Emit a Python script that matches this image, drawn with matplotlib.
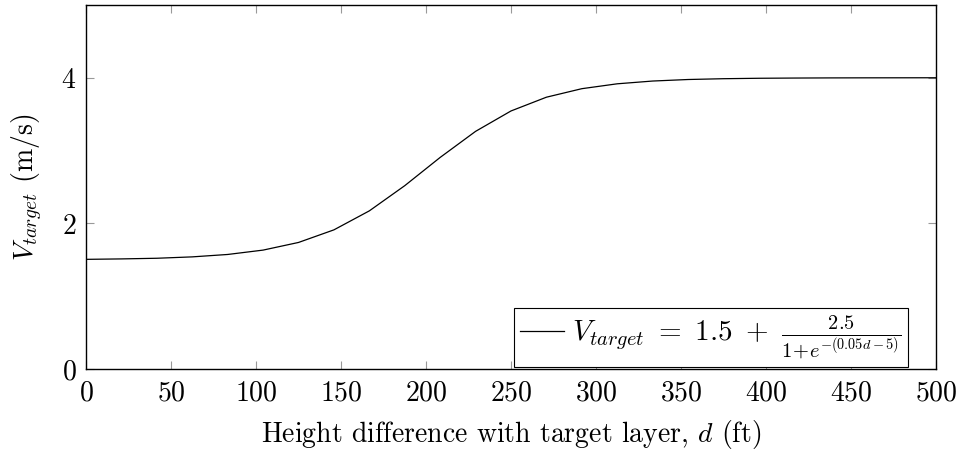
import matplotlib
matplotlib.use("Agg")
import matplotlib.pyplot as plt

plt.rcParams["font.family"] = "serif"
plt.rcParams["font.serif"] = ["cmr10"]
plt.rcParams["mathtext.fontset"] = "cm"
plt.rcParams["axes.formatter.use_mathtext"] = True

d_ft = [0, 20.83, 41.67, 62.5, 83.33, 104.17, 125, 145.83, 166.67, 187.5,
        208.33, 229.17, 250, 270.83, 291.67, 312.5, 333.33, 354.17, 375,
        395.83, 416.67, 437.5, 458.33, 479.17, 500]
v_target = [1.506, 1.512, 1.521, 1.540, 1.573, 1.633, 1.738, 1.911, 2.172,
            2.518, 2.906, 3.264, 3.544, 3.733, 3.850, 3.917, 3.955, 3.976,
            3.987, 3.993, 3.996, 3.998, 3.999, 3.9995, 4.0]
x_ticks = [0, 50, 100, 150, 200, 250, 300, 350, 400, 450, 500]
y_ticks = [0, 2, 4]

fig = plt.figure(figsize=(9.59, 4.5), dpi=100)
ax = fig.add_axes([0.0897, 0.18, 0.8863, 0.809])

ax.plot(d_ft, v_target, color="black", lw=0.9,
        label=r"$V_{target}\ =\ 1.5\ +\ \frac{2.5}{1\!+\!e^{-(0.05d-5)}}$")

ax.set_xlim(0, 500)
ax.set_ylim(0, 5)
ax.set_xticks(x_ticks)
ax.set_yticks(y_ticks)
ax.tick_params(direction="in", length=6, width=0.8, color="#999999",
               top=True, right=True, labelsize=20)
ax.tick_params(axis="x", pad=8)
ax.tick_params(axis="y", pad=7)
for s in ax.spines.values():
    s.set_linewidth(1.0)

ax.set_xlabel(r"Height difference with target layer, $d$ (ft)", fontsize=20,
              labelpad=8)
ax.set_ylabel(r"$V_{target}$ (m/s)", fontsize=20, labelpad=12)

leg = ax.legend(loc="lower right", bbox_to_anchor=(0.967, 0.005), fontsize=21,
                fancybox=False, framealpha=1, edgecolor="black",
                handlelength=1.5, handletextpad=0.3, borderaxespad=0.0,
                borderpad=0.2)
leg.get_frame().set_linewidth(0.8)

fig.savefig("out.png", dpi=100)
